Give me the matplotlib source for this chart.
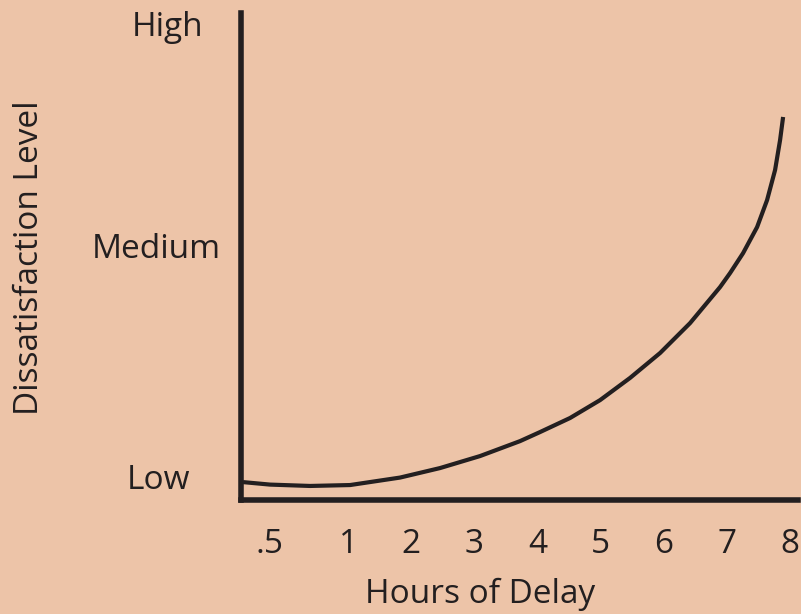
import matplotlib
matplotlib.use("Agg")
import matplotlib.pyplot as plt
from matplotlib.transforms import blended_transform_factory

# Data
hours = [-0.664, -0.236, 0.398, 1.032, 1.824, 2.458, 3.092, 3.726, 4.043, 4.518,
         4.994, 5.469, 5.945, 6.420, 6.895, 7.054, 7.260, 7.482, 7.640, 7.767, 7.846, 7.894]
dissatisfaction = [0.982, 0.971, 0.965, 0.969, 1.002, 1.044, 1.097, 1.163, 1.203, 1.265,
                   1.344, 1.442, 1.552, 1.684, 1.843, 1.905, 1.993, 2.108, 2.227, 2.360, 2.492, 2.594]
x_tick_pos = [-0.24, 1, 2, 3, 4, 5, 6, 7, 8]
x_tick_labels = [".5", "1", "2", "3", "4", "5", "6", "7", "8"]
y_tick_pos = [0.987, 2.01, 2.987]
y_tick_labels = ["Low", "Medium", "High"]
y_label_x_px = [159, 156, 168]

bg = "#EDC4A8"
ink = "#231F20"
plt.rcParams['font.family'] = ['Open Sans', 'DejaVu Sans']
FS = 24

fig = plt.figure(figsize=(8.01, 6.14), dpi=100, facecolor=bg)
ax = fig.add_axes([241/801, (614-500)/614, (798-241)/801, (500-13)/614])
ax.set_facecolor(bg)

ax.plot(hours, dissatisfaction, color=ink, lw=3.0, solid_capstyle='butt',
        solid_joinstyle='round', clip_on=False)

ax.set_xlim(-0.696, 8.13)
ax.set_ylim(0.903, 3.053)

for s in ['top', 'right']:
    ax.spines[s].set_visible(False)
for s in ['left', 'bottom']:
    ax.spines[s].set_linewidth(4.0)
    ax.spines[s].set_color(ink)
    ax.spines[s].set_capstyle('projecting')

ax.set_xticks(x_tick_pos)
ax.set_xticklabels(x_tick_labels, fontsize=FS, color=ink)
ax.tick_params(axis='x', length=0, pad=20)
ax.set_yticks([])

trans = blended_transform_factory(fig.transFigure, ax.transData)
for yv, lab, xp in zip(y_tick_pos, y_tick_labels, y_label_x_px):
    ax.text(xp/801, yv, lab, transform=trans, ha='center', va='center', fontsize=FS, color=ink)

fig.text(480/801, 1 - 594/614, "Hours of Delay", ha='center', va='center', fontsize=FS, color=ink)
fig.text(30/801, 1 - 258/614, "Dissatisfaction Level", ha='center', va='center', rotation=90, fontsize=FS, color=ink)

fig.savefig("out.png", dpi=100, facecolor=bg)
